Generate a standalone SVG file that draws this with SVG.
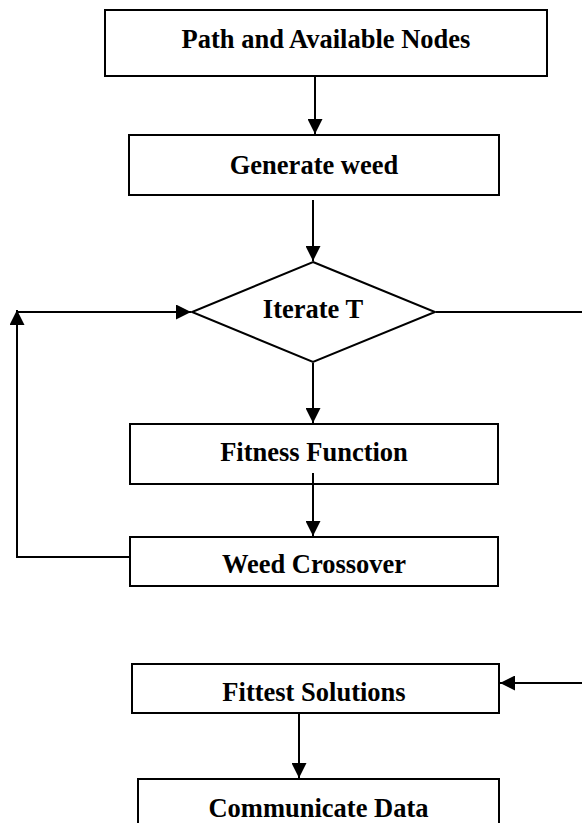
<svg xmlns="http://www.w3.org/2000/svg" width="582" height="823" viewBox="0 0 582 823">
<style>
.box{fill:#fff;stroke:#000;stroke-width:2}
.lbl{font-family:"Liberation Serif","Times New Roman",serif;font-weight:bold;font-size:26.5px;fill:#000;text-anchor:middle}
.con{fill:none;stroke:#000;stroke-width:2}
</style>
<defs>
<marker id="ah" markerUnits="userSpaceOnUse" markerWidth="16" markerHeight="15" refX="15" refY="7.5" orient="auto">
<path d="M0,0 L15,7.5 L0,15 z" fill="#000"/>
</marker>
</defs>
<rect width="582" height="823" fill="#fff"/>
<g id="path-nodes">
<rect class="box" x="105" y="10" width="442" height="66"/>
<text class="lbl" x="326" y="48">Path and Available Nodes</text>
</g>
<g id="generate-weed">
<rect class="box" x="129" y="135" width="370" height="60"/>
<text class="lbl" x="314" y="174">Generate weed</text>
</g>
<g id="iterate">
<polygon class="box" points="313,262 435,312 313,362 192,312"/>
<text class="lbl" x="313" y="318">Iterate T</text>
</g>
<g id="fitness-function">
<rect class="box" x="130" y="424" width="368" height="60"/>
<text class="lbl" x="314" y="461">Fitness Function</text>
</g>
<g id="weed-crossover">
<rect class="box" x="130" y="537" width="368" height="49"/>
<text class="lbl" x="314" y="573">Weed Crossover</text>
</g>
<g id="fittest-solutions">
<rect class="box" x="132" y="664" width="367" height="49"/>
<text class="lbl" x="314" y="701">Fittest Solutions</text>
</g>
<g id="communicate-data">
<rect class="box" x="138" y="779" width="361" height="60"/>
<text class="lbl" x="318.5" y="817">Communicate Data</text>
</g>
<g id="connectors">
<path class="con" d="M315,77 V134" marker-end="url(#ah)"/>
<path class="con" d="M313,200 V261" marker-end="url(#ah)"/>
<path class="con" d="M313,363 V423" marker-end="url(#ah)"/>
<path class="con" d="M313,473 V536" marker-end="url(#ah)"/>
<path class="con" d="M129,557 H17 V310" marker-end="url(#ah)"/>
<path class="con" d="M17,312 H191" marker-end="url(#ah)"/>
<path class="con" d="M436,312 H582"/>
<path class="con" d="M582,683 H500" marker-end="url(#ah)"/>
<path class="con" d="M299,714 V778" marker-end="url(#ah)"/>
</g>
</svg>
